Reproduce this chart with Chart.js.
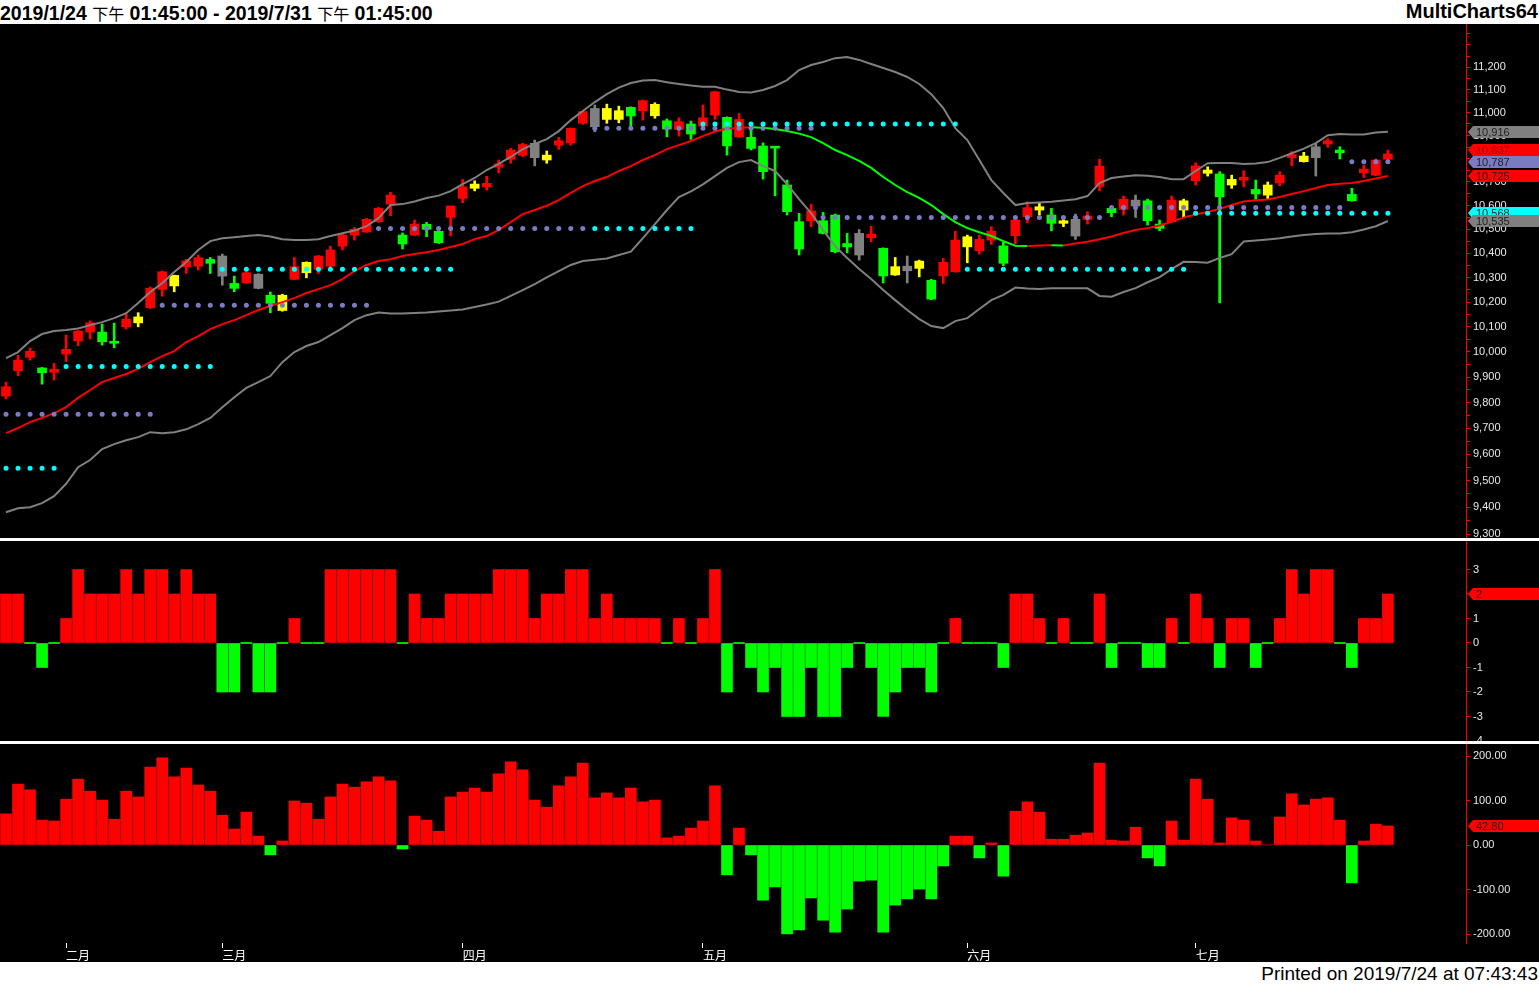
<!DOCTYPE html>
<html><head><meta charset="utf-8">
<script src="https://cdn.jsdelivr.net/npm/chart.js@4.4.1/dist/chart.umd.min.js"></script>
<style>
html,body{margin:0;padding:0;background:#000;width:1539px;height:985px;overflow:hidden;}
#header{position:absolute;left:0;top:0;width:1539px;height:24px;background:#fff;}
#title{position:absolute;left:0px;top:1px;font:bold 19.5px "Liberation Sans",Arial,sans-serif;color:#000;white-space:nowrap;}
#title .cjk{font-family:"Noto Sans CJK TC";font-weight:normal;font-size:16px;}
#brand{position:absolute;right:1px;top:0px;font:bold 20px "Liberation Sans",Arial,sans-serif;color:#000;}
#footer{position:absolute;left:0;top:962px;width:1539px;height:23px;background:#fff;}
#printed{position:absolute;right:1px;top:1px;font:19px "Liberation Sans",Arial,sans-serif;color:#000;white-space:nowrap;}
.sep{position:absolute;left:0;width:1539px;height:3px;background:#fff;border-top:0;}
canvas{position:absolute;left:0;}
</style></head><body>
<div id="header"><div id="title">2019/1/24 <span class="cjk">下午</span> 01:45:00 - 2019/7/31 <span class="cjk">下午</span> 01:45:00</div><div id="brand">MultiCharts64</div></div>
<canvas id="c1" width="1539" height="514" style="top:24px"></canvas>
<div class="sep" style="top:538px"></div>
<canvas id="c2" width="1539" height="200" style="top:541px"></canvas>
<div class="sep" style="top:741px"></div>
<canvas id="c3" width="1539" height="218" style="top:744px"></canvas>
<div id="footer"><div id="printed">Printed on 2019/7/24 at 07:43:43</div></div>
<script>
// ---------- DATA ----------
const slotCount = 122; // categories to 7/31 (empty slots after last bar)
const monthTickIndex = [5, 18, 38, 58, 80, 99];
const monthTickLabels = ['二月', '三月', '四月', '五月', '六月', '七月'];

const opens = [9825,9925,9978,9936,9919,9991,10044,10079,10079,10042,
10100,10116,10177,10252,10266,10345,10347,10375,10389,10276,
10278,10314,10228,10166,10293,10320,10334,10347,10430,10476,
10489,10532,10606,10476,10476,10521,10492,10550,10630,10673,
10679,10763,10797,10814,10866,10794,10858,10868,10953,11018,
10970,10970,11023,11008,10986,10964,10926,10950,10941,10989,
10979,10894,10892,10854,10849,10687,10532,10536,10536,10560,
10441,10483,10465,10421,10311,10347,10338,10289,10307,10324,
10427,10411,10455,10431,10473,10553,10581,10560,10525,10542,
10542,10682,10588,10584,10623,10620,10522,10532,10581,10705,
10737,10734,10687,10708,10668,10644,10696,10804,10787,10851,
10863,10837,10647,10739,10729,10797];
const highs = [9880,9986,10015,9938,9954,10067,10085,10124,10111,10115,
10154,10157,10262,10327,10310,10375,10393,10383,10397,10306,
10322,10316,10241,10232,10383,10365,10391,10430,10483,10508,
10546,10592,10656,10485,10539,10529,10494,10598,10711,10705,
10724,10794,10844,10866,10880,10833,10892,10933,11006,11033,
11037,11028,11025,11055,11043,10972,10977,10963,11033,11094,
10981,10996,10945,10868,10849,10708,10567,10606,10571,10564,
10483,10499,10513,10423,10383,10389,10372,10293,10379,10492,
10476,10476,10511,10448,10541,10616,10614,10588,10546,10564,
10574,10797,10590,10640,10644,10627,10539,10640,10627,10782,
10765,10744,10729,10748,10708,10700,10744,10830,10827,10866,
10887,10851,10673,10772,10798,10837];
const lows = [9814,9905,9967,9872,9888,9961,10024,10051,10027,10016,
10091,10100,10174,10224,10242,10317,10331,10317,10269,10242,
10276,10254,10157,10163,10291,10299,10317,10342,10414,10455,
10487,10529,10557,10418,10474,10469,10441,10473,10612,10662,
10665,10739,10780,10808,10769,10780,10840,10858,10948,10916,
10953,10955,10941,10967,10975,10894,10897,10883,10941,10970,
10815,10892,10837,10712,10641,10560,10393,10511,10481,10402,
10402,10372,10448,10278,10309,10278,10303,10210,10276,10322,
10361,10397,10437,10349,10439,10527,10560,10494,10511,10458,
10522,10662,10553,10560,10550,10518,10494,10530,10550,10687,
10725,10197,10673,10679,10626,10627,10684,10769,10785,10725,
10849,10798,10618,10719,10727,10795];
const closes = [9862,9967,10002,9917,9931,10010,10083,10116,10040,10034,
10131,10140,10256,10324,10309,10369,10382,10359,10306,10256,
10320,10256,10195,10228,10345,10363,10389,10414,10476,10500,
10542,10588,10644,10439,10522,10500,10444,10598,10679,10691,
10694,10777,10837,10861,10804,10815,10877,10931,11004,10938,
11018,11008,10985,11052,11036,10928,10960,10906,10977,11091,
10855,10970,10844,10744,10845,10574,10418,10577,10483,10407,
10427,10393,10480,10307,10345,10328,10368,10212,10363,10455,
10469,10458,10492,10359,10539,10591,10595,10525,10536,10472,
10556,10768,10570,10627,10598,10536,10504,10623,10620,10769,
10751,10637,10711,10720,10649,10687,10729,10818,10811,10804,
10877,10825,10620,10755,10794,10820];
// candle colour code per bar: R red, G green, Y yellow, K grey
const candleColorCodes = ('RRRGRRRRGG' + 'RYRRYRRGKG' + 'RKGYRYRRRR' + 'RRRGRGGRRY' + 'RRRRKYRRRK' +
  'YYGRYGRGRR' + 'GRGGGGGRGG' + 'GKRGYKYGRR' + 'YRRGRRYGYK' + 'RRGRKGGRYR' + 'YGYRGYRRYK' + 'RGGRRR').split('');

const ma = [9681,9701,9724,9740,9759,9782,9818,9849,9880,9896,
9912,9932,9959,9983,10003,10039,10063,10091,10111,10127,
10147,10168,10184,10200,10216,10237,10253,10269,10294,10327,
10352,10368,10376,10389,10397,10405,10414,10426,10439,10459,
10472,10497,10530,10564,10581,10599,10623,10654,10682,10704,
10721,10747,10768,10794,10815,10841,10858,10876,10897,10917,
10930,10932,10936,10934,10928,10919,10908,10893,10867,10837,
10815,10790,10760,10721,10687,10657,10632,10602,10564,10530,
10505,10488,10472,10451,10432,10430,10433,10434,10433,10441,
10448,10459,10470,10485,10497,10505,10516,10532,10549,10562,
10573,10586,10602,10617,10622,10626,10636,10649,10661,10674,
10687,10692,10696,10704,10715,10725];
const bbUpper = [9975,9999,10043,10071,10083,10087,10093,10107,10119,10135,
10155,10196,10241,10277,10323,10364,10414,10451,10463,10467,
10472,10476,10470,10459,10455,10455,10459,10472,10484,10495,
10513,10547,10602,10606,10617,10632,10642,10661,10691,10717,
10751,10777,10807,10841,10863,10884,10919,10967,11007,11046,
11081,11110,11130,11141,11143,11134,11126,11119,11114,11114,
11101,11090,11088,11099,11117,11143,11188,11210,11224,11241,
11246,11233,11215,11197,11179,11157,11126,11081,11020,10932,
10880,10794,10708,10653,10602,10611,10613,10616,10621,10627,
10640,10695,10717,10723,10729,10727,10721,10712,10712,10747,
10780,10781,10781,10777,10779,10785,10803,10823,10843,10867,
10901,10906,10904,10904,10913,10916];
const bbLower = [9381,9396,9400,9415,9441,9488,9551,9578,9620,9639,
9654,9666,9685,9681,9685,9696,9716,9740,9782,9821,
9857,9880,9904,9959,9999,10023,10039,10067,10095,10127,
10147,10158,10154,10154,10156,10158,10162,10166,10170,10180,
10190,10202,10225,10249,10273,10301,10327,10352,10368,10374,
10379,10393,10407,10463,10522,10581,10636,10660,10690,10725,
10760,10785,10794,10768,10747,10691,10627,10568,10497,10430,
10381,10335,10294,10249,10208,10168,10131,10103,10095,10123,
10135,10172,10208,10229,10259,10255,10253,10256,10256,10256,
10256,10225,10222,10241,10257,10281,10302,10335,10365,10364,
10361,10381,10397,10449,10453,10458,10463,10470,10476,10480,
10483,10483,10488,10499,10513,10535];
// dotted levels: [firstBar, lastBar, price]
const cyanLevels = [[0,4,9547],[5,17,9942],[18,37,10334],[49,57,10504],[58,79,10950],[80,98,10334],[99,115,10568]];
const purpleLevels = [[0,12,9754],[13,30,10187],[31,48,10504],[49,67,10931],[68,91,10550],[92,111,10592],[112,115,10787]];

const signalValues = [2,2,0,-1,0,1,3,2,2,2,3,2,3,3,2,3,2,2,-2,-2,0,-2,-2,0,1,0,0,3,3,3,3,3,3,0,2,1,1,2,2,2,
2,3,3,3,1,2,2,3,3,1,2,1,1,1,1,0,1,0,1,3,-2,0,-1,-2,-1,-3,-3,-1,-3,-3,-1,0,-1,-3,-2,-1,-1,-2,0,1,
0,0,0,-1,2,2,1,0,1,0,0,2,-1,0,0,-1,-1,1,0,2,1,-1,1,1,-1,0,1,3,2,3,3,0,-1,1,1,2];
const oscValues = [70,137,124,56,54,103,148,121,101,58,121,108,175,196,153,173,135,121,67,36,
74,20,-22,9,99,94,58,108,137,130,142,153,144,-9,65,56,31,108,119,128,
119,160,187,169,101,85,133,153,184,106,117,106,128,97,101,16,20,38,54,133,
-67,38,-22,-124,-94,-200,-191,-119,-169,-196,-144,-81,-79,-196,-135,-121,-99,-121,-47,20,
20,-29,4.5,-70,76,97,74,13,13,22,27,184,11,9,40,-29,-47,54,11,148,
103,4.5,61,56,9,0,63,115,90,103,106,56,-85,9,47,42.8];

const priceTicks = [9300,9400,9500,9600,9700,9800,9900,10000,10100,10200,10300,10400,10500,10600,10700,10800,10900,11000,11100,11200];
const priceMinorTicks = [9350,9450,9550,9650,9750,9850,9950,10050,10150,10250,10350,10450,10550,10650,10750,10850,10950,11050,11150,11250,11300,11350];
const signalTicks = [3,2,1,0,-1,-2,-3,-4];
const oscTicks = [200,100,0,-100,-200];

const priceMarkerValues = [10916, 10837, 10787, 10725, 10568, 10535];
const priceMarkerColors = ['#808080', '#FF0000', '#7B7BC4', '#FF0000', '#00FFFF', '#808080'];
const signalMarker = 2;
const oscMarker = 42.8;

// ---------- BUILD ----------
const cats = Array.from({length: slotCount}, (_, i) => String(i));
const colorMap = {R:'#FF0000', G:'#00FF00', Y:'#FFFF00', K:'#808080'};
const candleColors = candleColorCodes.map(c => colorMap[c]);
function levelSeries(levels){ const a = new Array(opens.length).fill(null); levels.forEach(([s,e,v]) => { for (let i = s; i <= e; i++) a[i] = v; }); return a; }
const fmt = v => v.toLocaleString('en-US');

const markerPlugin = {
  id: 'markers',
  afterDraw(chart, args, opts) {
    const ctx = chart.ctx, ys = chart.scales.y;
    (opts.items || []).forEach(m => {
      const y = Math.round(ys.getPixelForValue(m.value));
      const x0 = Math.round(ys.left) + 2;
      ctx.save();
      ctx.fillStyle = m.bg;
      ctx.beginPath();
      ctx.moveTo(x0, y); ctx.lineTo(x0 + 5, y - 6); ctx.lineTo(chart.width, y - 6);
      ctx.lineTo(chart.width, y + 6); ctx.lineTo(x0 + 5, y + 6); ctx.closePath(); ctx.fill();
      ctx.fillStyle = m.fg; ctx.font = '11px "Liberation Sans", Arial'; ctx.textBaseline = 'middle';
      ctx.fillText(m.text, x0 + 8, y + 1);
      ctx.restore();
    });
  }
};

function yAxis(min, max, tickValues, labelFn) {
  return {
    type: 'linear', position: 'right', min, max,
    border: {display: true, color: '#FF0000', width: 1},
    grid: {drawOnChartArea: false, drawTicks: true, tickLength: 4, tickColor: '#FF0000'},
    ticks: {color: '#E8E8E8', padding: 3, font: {family: 'Liberation Sans', size: 11}, autoSkip: false, maxRotation: 0, callback: labelFn},
    afterBuildTicks(s) { s.ticks = tickValues.filter(v => v >= min && v <= max).sort((a, b) => a - b).map(v => ({value: v})); },
    afterFit(s) { s.width = 73; s.paddingTop = 0; s.paddingBottom = 0; }
  };
}
const xHidden = {type: 'category', display: false, offset: true};
const baseOpts = {responsive: false, maintainAspectRatio: false, animation: false, layout: {padding: 0, autoPadding: false},
  plugins: {legend: {display: false}, tooltip: {enabled: false}}};

// price panel (log scale)
const y1 = yAxis(9285.2, 11394.9, priceTicks.concat(priceMinorTicks), v => priceTicks.includes(v) ? fmt(v) : '');
y1.type = 'logarithmic';

new Chart(document.getElementById('c1'), {
  type: 'bar',
  data: {labels: cats, datasets: [
    {type: 'line', data: levelSeries(cyanLevels), showLine: false, pointRadius: 2.5, pointBackgroundColor: '#00FFFF', pointBorderWidth: 0, order: 0},
    {type: 'line', data: levelSeries(purpleLevels), showLine: false, pointRadius: 2.5, pointBackgroundColor: '#7B7BC4', pointBorderWidth: 0, order: 0},
    {type: 'line', data: ma, borderColor: '#FF0000', borderWidth: 2, pointRadius: 0, order: 1,
      segment: {borderColor: c => c.p1.parsed.y < c.p0.parsed.y ? '#00FF00' : '#FF0000'}},
    {type: 'line', data: bbUpper, borderColor: '#808080', borderWidth: 2, pointRadius: 0, order: 2},
    {type: 'line', data: bbLower, borderColor: '#808080', borderWidth: 2, pointRadius: 0, order: 2},
    {type: 'bar', data: opens.map((o, i) => [o, closes[i]]), backgroundColor: candleColors, barThickness: 9, minBarLength: 2, grouped: false, order: 3},
    {type: 'bar', data: lows.map((l, i) => [l, highs[i]]), backgroundColor: candleColors, barThickness: 2, grouped: false, order: 4}
  ]},
  options: Object.assign({}, baseOpts, {
    scales: {x: xHidden, y: y1},
    plugins: {legend: {display: false}, tooltip: {enabled: false},
      markers: {items: priceMarkerValues.map((v, i) => ({value: v, bg: priceMarkerColors[i], fg: i === 1 ? '#A00000' : '#202020', text: fmt(v)}))}}
  }),
  plugins: [markerPlugin]
});

// signal panel
new Chart(document.getElementById('c2'), {
  type: 'bar',
  data: {labels: cats, datasets: [
    {data: signalValues, backgroundColor: signalValues.map(v => v > 0 ? '#FF0000' : '#00FF00'), barThickness: 11, minBarLength: 1}
  ]},
  options: Object.assign({}, baseOpts, {
    scales: {x: xHidden, y: yAxis(-4.0, 4.163, signalTicks, v => String(v))},
    plugins: {legend: {display: false}, tooltip: {enabled: false},
      markers: {items: [{value: signalMarker, bg: '#FF0000', fg: '#202020', text: String(signalMarker)}]}}
  }),
  plugins: [markerPlugin]
});

// oscillator panel with month axis
new Chart(document.getElementById('c3'), {
  type: 'bar',
  data: {labels: cats, datasets: [
    {data: oscValues, backgroundColor: oscValues.map(v => v >= 0 ? '#FF0000' : '#00FF00'), barThickness: 11}
  ]},
  options: Object.assign({}, baseOpts, {
    scales: {
      x: {type: 'category', offset: true, position: 'bottom',
        border: {display: false},
        grid: {display: true, drawOnChartArea: false, offset: false, tickLength: 5,
          tickColor: c => monthTickIndex.includes(c.index) ? '#FFFFFF' : 'rgba(0,0,0,0)'},
        ticks: {autoSkip: false, maxRotation: 0, align: 'start', padding: 0, color: '#FFFFFF',
          font: {family: 'Noto Sans CJK TC', size: 12},
          callback: (v, i) => { const k = monthTickIndex.indexOf(i); return k >= 0 ? monthTickLabels[k] : ''; }},
        afterFit(s) { s.height = 19; s.paddingLeft = 0; s.paddingRight = 0; }},
      y: yAxis(-220.2, 226.97, oscTicks, v => v.toFixed(2))
    },
    plugins: {legend: {display: false}, tooltip: {enabled: false},
      markers: {items: [{value: oscMarker, bg: '#FF0000', fg: '#202020', text: oscMarker.toFixed(2)}]}}
  }),
  plugins: [markerPlugin]
});
</script>
</body></html>
